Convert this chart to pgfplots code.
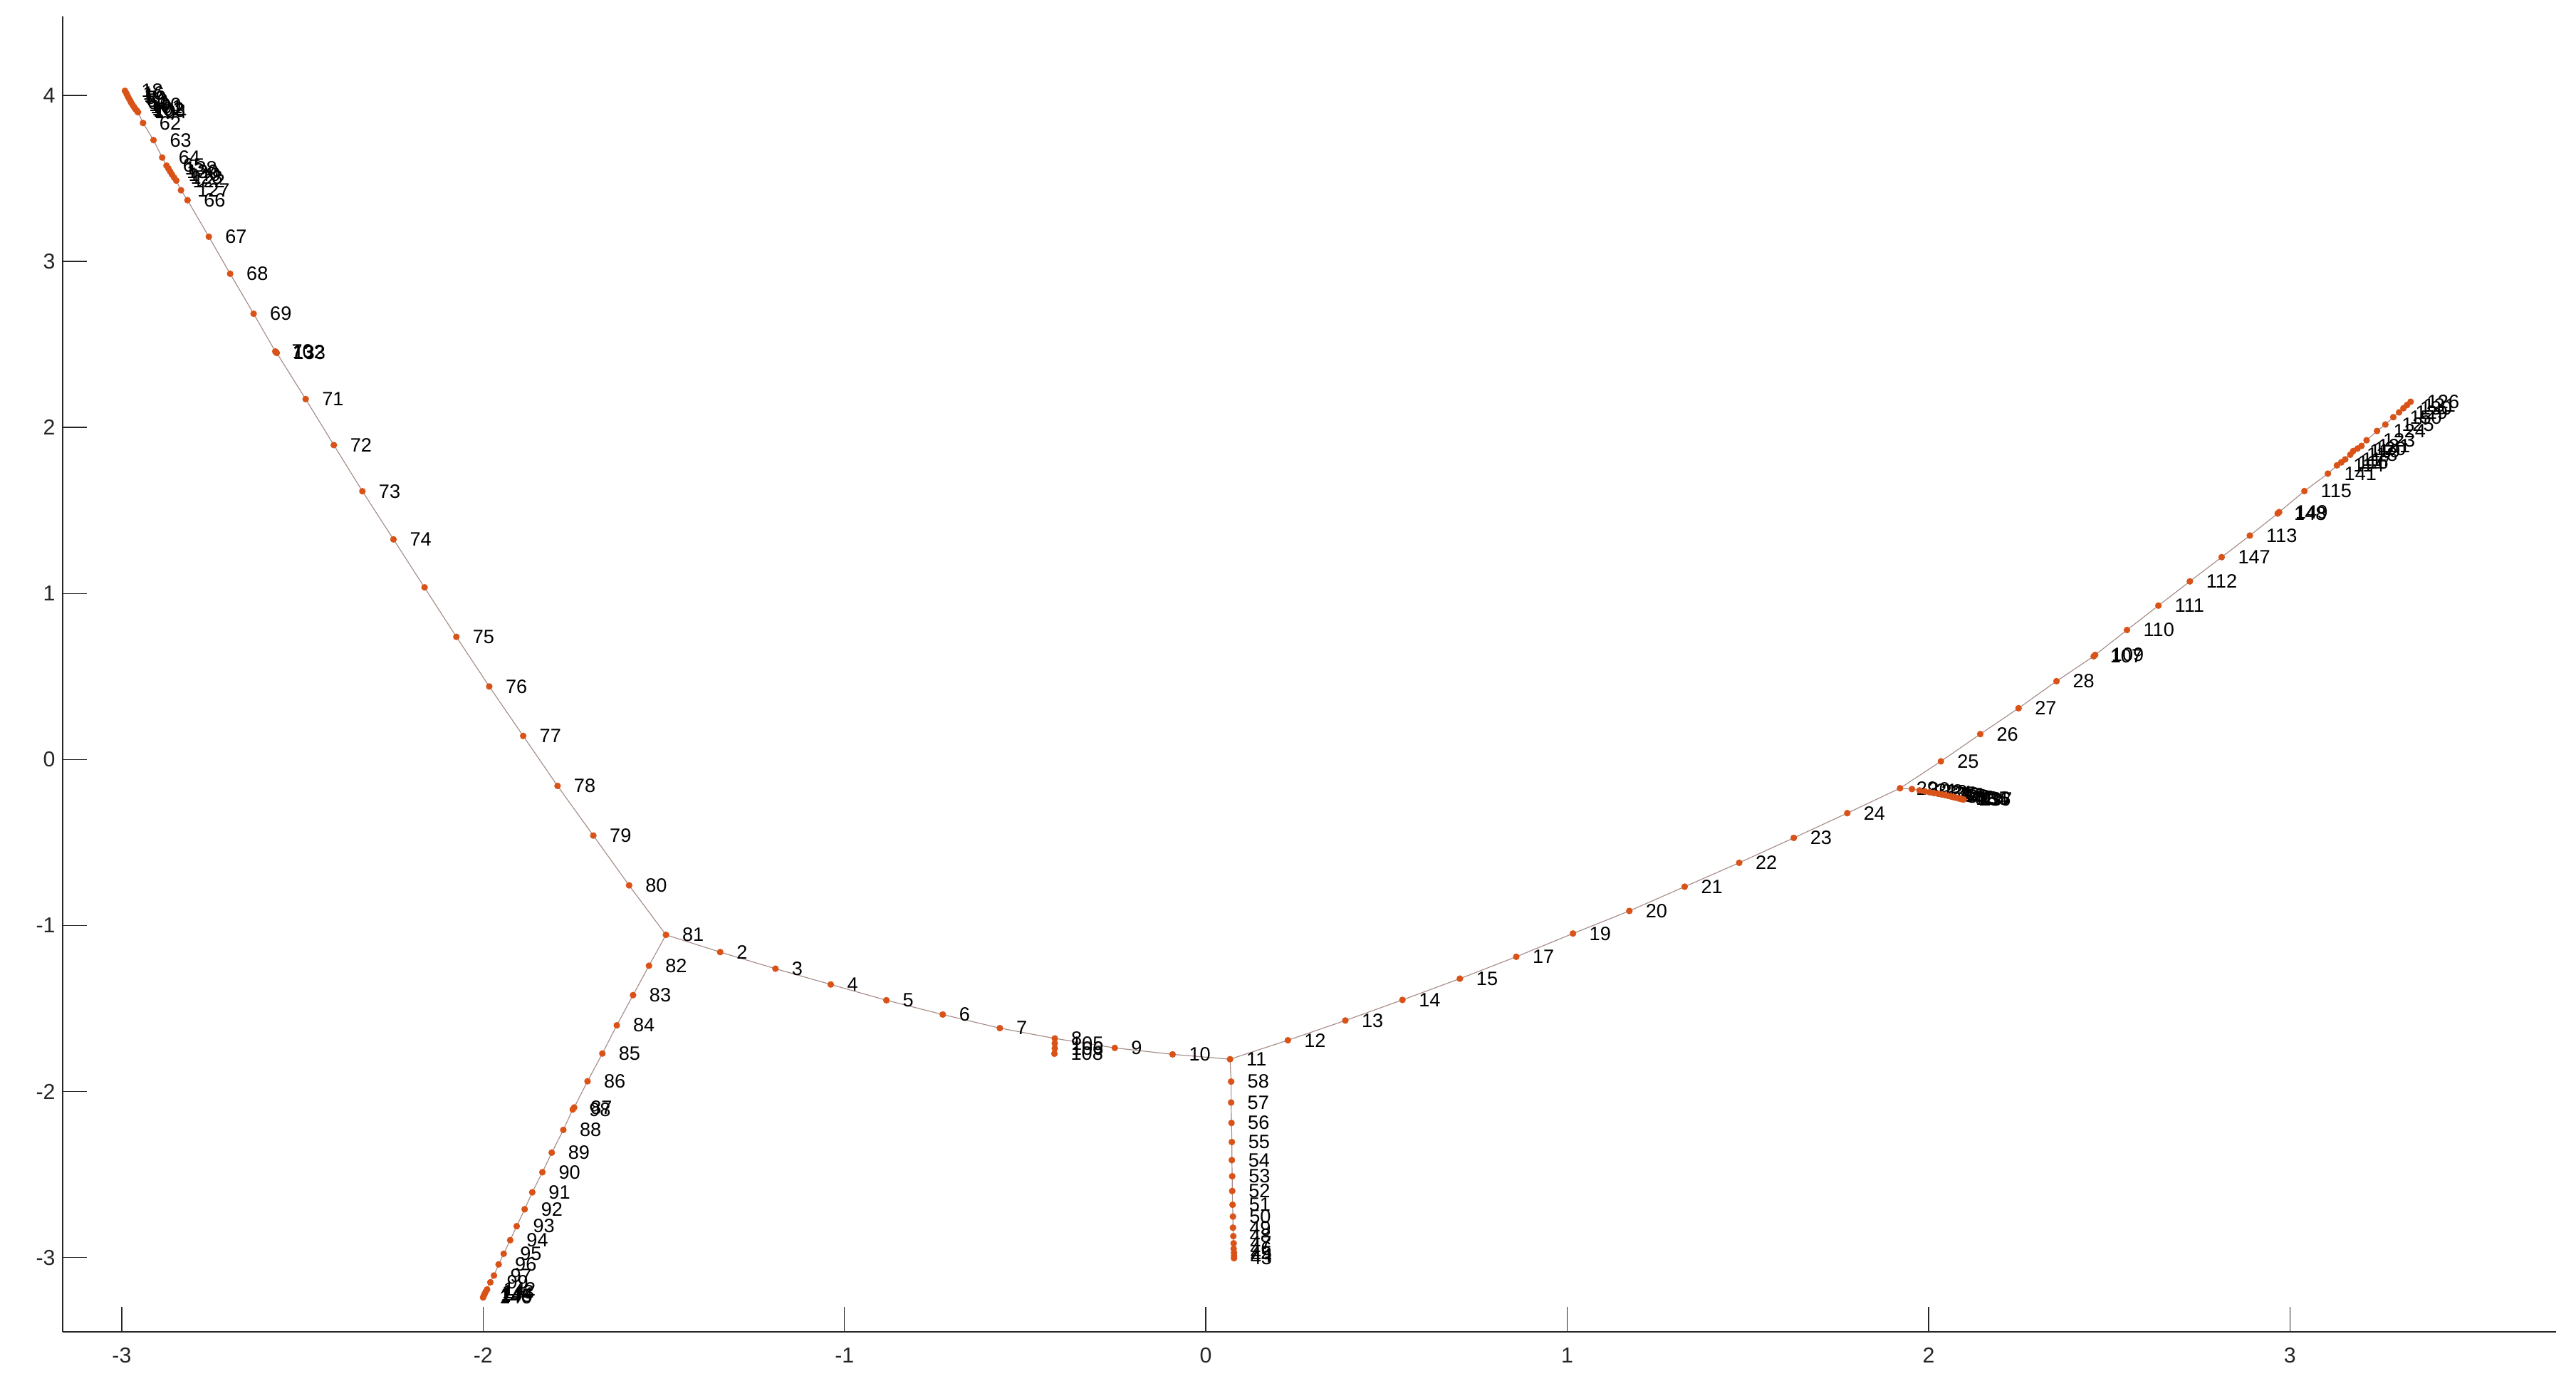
\documentclass[border=0pt]{standalone}
\usepackage{fontspec}
\setmainfont{Liberation Sans}
\usepackage{pgfplots}
\usepackage{pgfplotstable}
\pgfplotsset{compat=1.18}

\definecolor{nodecol}{rgb}{0.85,0.325,0.098}
\definecolor{edgecol}{RGB}{165,140,135}
\definecolor{axcol}{RGB}{38,38,38}

% branch from the top left tip down to node 81
\pgfplotstableread{
x y lab
-2.991 4.028 18
-2.987 4.012 16
-2.984 3.998 1
-2.981 3.985 59
-2.977 3.970 60
-2.974 3.957 61
-2.970 3.943 100
-2.966 3.930 101
-2.962 3.918 102
-2.958 3.908 103
-2.955 3.899 104
-2.941 3.834 62
-2.912 3.731 63
-2.888 3.626 64
-2.876 3.577 65
-2.871 3.560 138
-2.866 3.542 139
-2.861 3.524 140
-2.855 3.505 128
-2.849 3.487 122
-2.836 3.429 127
-2.818 3.369 66
-2.759 3.149 67
-2.700 2.926 68
-2.635 2.685 69
-2.575 2.458 70
-2.573 2.453 132
-2.571 2.449 133
-2.491 2.171 71
-2.413 1.894 72
-2.334 1.616 73
-2.248 1.326 74
-2.074 0.739 75
-1.983 0.440 76
-1.889 0.142 77
-1.794 -0.159 78
-1.695 -0.458 79
-1.596 -0.758 80
-1.494 -1.056 81
}\tabTL

% 81 down to the bottom left
\pgfplotstableread{
x y lab
-1.494 -1.056 81
-1.541 -1.242 82
-1.585 -1.419 83
-1.630 -1.601 84
-1.670 -1.771 85
-1.711 -1.938 86
-1.748 -2.096 87
-1.752 -2.108 98
-1.778 -2.231 88
-1.810 -2.368 89
-1.836 -2.486 90
-1.864 -2.607 91
-1.885 -2.709 92
-1.907 -2.811 93
-1.925 -2.895 94
-1.943 -2.977 95
-1.957 -3.041 96
-1.970 -3.108 97
-1.980 -3.149 99
-1.989 -3.192 142
-1.993 -3.207 143
-1.996 -3.220 144
-1.998 -3.230 145
-2.000 -3.240 146
}\tabBL

% 81 across to 11
\pgfplotstableread{
x y lab
-1.494 -1.056 81
-1.344 -1.160 2
-1.191 -1.260 3
-1.038 -1.355 4
-0.884 -1.450 5
-0.728 -1.536 6
-0.570 -1.618 7
-0.418 -1.680 8
-0.252 -1.737 9
-0.092 -1.776 10
0.067 -1.805 11
}\tabM

% short spur under 8
\pgfplotstableread{
x y lab
-0.418 -1.680 8
-0.418 -1.710 105
-0.418 -1.740 106
-0.419 -1.772 108
}\tabS

% 11 straight down
\pgfplotstableread{
x y lab
0.067 -1.805 11
0.070 -1.940 58
0.070 -2.066 57
0.071 -2.189 56
0.072 -2.304 55
0.072 -2.413 54
0.073 -2.510 53
0.073 -2.599 52
0.074 -2.682 51
0.075 -2.753 50
0.075 -2.820 49
0.076 -2.871 48
0.077 -2.914 47
0.077 -2.947 46
0.078 -2.971 45
0.078 -2.990 44
0.078 -3.004 43
}\tabV

% 11 up to the top right tip
\pgfplotstableread{
x y lab
0.067 -1.805 11
0.227 -1.691 12
0.386 -1.572 13
0.544 -1.448 14
0.703 -1.320 15
0.859 -1.188 17
1.016 -1.048 19
1.172 -0.912 20
1.325 -0.766 21
1.476 -0.622 22
1.627 -0.472 23
1.775 -0.323 24
1.921 -0.173 29
2.034 -0.011 25
2.143 0.153 26
2.249 0.309 27
2.354 0.472 28
2.457 0.622 107
2.461 0.630 109
2.549 0.780 110
2.636 0.927 111
2.723 1.073 112
2.811 1.219 147
2.889 1.349 113
2.966 1.482 148
2.970 1.490 149
3.040 1.617 115
3.105 1.722 141
3.130 1.772 114
3.142 1.790 116
3.153 1.808 117
3.167 1.836 118
3.175 1.858 119
3.187 1.873 120
3.198 1.889 121
3.212 1.923 123
3.241 1.979 124
3.264 2.018 125
3.286 2.062 150
3.302 2.091 129
3.314 2.116 130
3.324 2.135 131
3.334 2.155 126
}\tabR

% short branch out of 29
\pgfplotstableread{
x y lab
1.921 -0.173 29
1.954 -0.178 30
1.975 -0.186 31
1.990 -0.192 32
2.003 -0.197 33
2.015 -0.202 34
2.026 -0.206 35
2.036 -0.210 36
2.045 -0.214 37
2.053 -0.218 38
2.061 -0.222 39
2.068 -0.226 40
2.074 -0.229 41
2.080 -0.232 42
2.085 -0.235 134
2.089 -0.237 135
2.093 -0.239 136
2.097 -0.241 137
}\tabJ

\pgfplotsset{
  edgeline/.style={no markers, color=edgecol, line width=0.4pt},
  vertex/.style={only marks, mark=*, mark size=1.4pt, color=nodecol,
    mark options={fill=nodecol, draw=nodecol}},
  labelled/.style={vertex, nodes near coords, point meta=explicit symbolic,
    nodes near coords align={anchor=west},
    every node near coord/.append style={inner sep=0pt, xshift=7.8pt,
      text=black, font=\fontsize{9.4}{10}\selectfont}},
}

\begin{document}
\begin{tikzpicture}
\path[use as bounding box] (-30.4pt,-24pt) rectangle (1223.2pt,648pt);
\begin{axis}[
  at={(0pt,0pt)}, anchor=south west,
  scale only axis, width=1213.6pt, height=640pt,
  xmin=-3.164, xmax=3.737, ymin=-3.446, ymax=4.476,
  axis lines*=left,
  axis line style={axcol, line width=0.7pt},
  xtick={-3,-2,...,3}, ytick={-3,-2,...,4},
  tick align=inside, major tick length=12pt,
  tick style={axcol, line width=0.5pt},
  ticklabel style={font=\fontsize{10.5}{12}\selectfont, text=axcol},
  xticklabel style={yshift=-4.5pt},
  /pgf/number format/assume math mode=true,
  clip=false,
]
% edges
\addplot[edgeline] table[x=x, y=y] {\tabTL};
\addplot[edgeline] table[x=x, y=y] {\tabBL};
\addplot[edgeline] table[x=x, y=y] {\tabM};
\addplot[edgeline] table[x=x, y=y] {\tabS};
\addplot[edgeline] table[x=x, y=y] {\tabV};
\addplot[edgeline] table[x=x, y=y] {\tabR};
\addplot[edgeline] table[x=x, y=y] {\tabJ};

% nodes with labels (first row of a branch is the junction, already drawn)
\addplot[labelled] table[x=x, y=y, meta=lab] {\tabTL};
\addplot[labelled, skip coords between index={0}{1}] table[x=x, y=y, meta=lab] {\tabBL};
\addplot[labelled, skip coords between index={0}{1}] table[x=x, y=y, meta=lab] {\tabM};
\addplot[labelled, skip coords between index={0}{1}] table[x=x, y=y, meta=lab] {\tabS};
\addplot[labelled, skip coords between index={0}{1}] table[x=x, y=y, meta=lab] {\tabV};
\addplot[labelled, skip coords between index={0}{1}] table[x=x, y=y, meta=lab] {\tabR};
\addplot[labelled, skip coords between index={0}{1}] table[x=x, y=y, meta=lab] {\tabJ};

% the one node shown without a label
\addplot[vertex] coordinates {(-2.162,1.037)};
\end{axis}
\end{tikzpicture}
\end{document}
